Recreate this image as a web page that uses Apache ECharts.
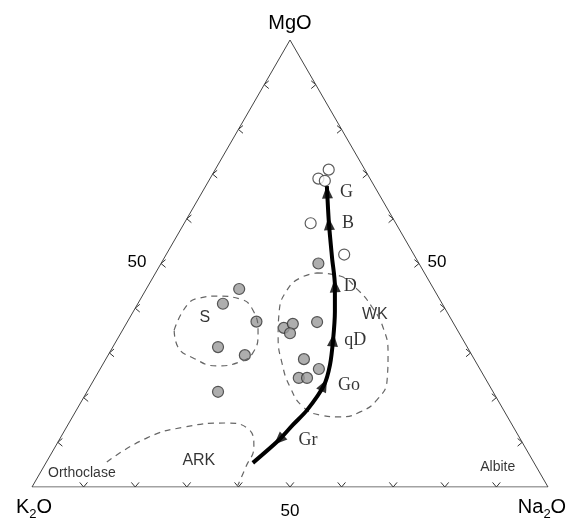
<!DOCTYPE html>
<html>
<head>
<meta charset="utf-8">
<script src="https://cdn.jsdelivr.net/npm/echarts@6/dist/echarts.min.js"></script>
<style>
  html, body { margin: 0; padding: 0; background: #fff; }
  #main { width: 573px; height: 519px; }
</style>
</head>
<body>
<div id="main"></div>
<script>
// compositions, every one as [K2O, Na2O, MgO]
const openPoints = [
  [10, 21, 69], [7, 22, 71], [9, 22.5, 68.5], [16.5, 24.5, 59], [13.5, 34.5, 52]
];
const grayPoints = [
  [19.5, 30.5, 50], [37.7, 18, 44.3], [42.5, 16.5, 41], [38, 25, 37],
  [48.3, 20.4, 31.3], [44, 26.5, 29.5], [53.3, 25.4, 21.3],
  [33.4, 31, 35.6], [31.2, 32.3, 36.5], [32.8, 32.8, 34.4], [26.3, 36.8, 36.9],
  [33, 38.4, 28.6], [31.2, 42.4, 26.4], [36.1, 39.5, 24.4], [34.5, 41.1, 24.4]
];
// weathering trend, from top (G) down to the end near ARK
const trendCurve = [
  [9.2, 23.5, 67.3], [9.8, 24.2, 66.0], [13.0, 28.1, 58.9], [16.2, 32.5, 51.3],
  [18.8, 36.2, 45.0], [21.7, 39.1, 39.2], [25.2, 41.9, 32.9], [28.6, 44.1, 27.3],
  [32.0, 45.2, 22.8], [38.1, 44.7, 17.2], [42.5, 43.6, 13.9], [46.9, 42.6, 10.5],
  [54.5, 40.1, 5.4]
];
const arrowIndex = [1, 2, 4, 6, 8, 11];
const arrowNames = ['G', 'B', 'D', 'qD', 'Go', 'Gr'];
const arrowDir = [1, 1, 1, 1, 1, -1];   // 1 = pointing up the curve, -1 = down
const arrowGap = [7, 7, 3, 5, 6, 11];

// dashed fields
const fieldS = [
  [54.9, 10, 35.1], [49.6, 9.7, 40.7], [46.3, 11.4, 42.3], [42.8, 14.5, 42.7],
  [38.7, 19.3, 42.1], [37.4, 23, 39.6], [39, 26.6, 34.5], [42.2, 27.8, 30],
  [45.7, 26.3, 28], [50.6, 22.3, 27.1], [54.4, 16.8, 28.9], [56, 12.6, 31.3],
  [54.9, 10, 35.1]
];
const fieldWK = [
  [20.8, 31.3, 47.9], [16.7, 36.1, 47.2], [14.8, 41.1, 44.1], [14, 45.8, 40.3],
  [14.1, 50.1, 35.8], [16, 54, 30], [19.2, 56.8, 23.9], [23.4, 57.1, 19.5],
  [28, 55.2, 16.8], [32.5, 51.9, 15.7], [36.1, 47.8, 16.1], [38.5, 43.6, 17.9],
  [38.8, 38.8, 22.4], [37.7, 34.6, 27.7], [35.5, 30.9, 33.6], [32.5, 28.3, 39.2],
  [28.5, 27.4, 44.1], [24.7, 28.6, 46.8], [20.8, 31.3, 47.9]
];
const fieldARK = [
  [82.7, 11.7, 5.6], [72.2, 16.8, 11], [63.8, 22.8, 13.4], [55.4, 30.2, 14.3],
  [51.6, 35.4, 13], [52.5, 38.5, 9], [56.3, 39.2, 4.5], [59.9, 39.7, 0.4]
];
const fieldNames = ['S', 'WK', 'ARK'];
const fieldLabelAt = [[47.6, 14.6, 37.8], [14.3, 47.2, 38.5], [64.6, 29.3, 6]];
const mineralNames = ['Orthoclase', 'Albite'];
const mineralLabelAt = [[88.7, 8.1, 3.1], [7.5, 88.1, 4.5]];
const tickValues = [10, 20, 30, 40, 50, 60, 70, 80, 90];

const R3 = Math.sqrt(3) / 2;
function toXY(c) {
  const s = c[0] + c[1] + c[2];
  const mg = c[2] / s * 100, na = c[1] / s * 100;
  return [na + mg / 2, mg * R3];
}

// tick chevrons: [x, y, pointing angle]
const ticks = [];
tickValues.forEach(function (v) {
  ticks.push(toXY([100 - v, v, 0]).concat(-90));   // bottom
  ticks.push(toXY([100 - v, 0, v]).concat(180));   // left
  ticks.push(toXY([0, 100 - v, v]).concat(0));     // right
});

const curveXY = trendCurve.map(toXY);
const arrowData = arrowIndex.map(function (i, k) {
  const a = curveXY[i - 1], b = curveXY[i + 1];
  const dx = (a[0] - b[0]) * arrowDir[k], dy = (a[1] - b[1]) * arrowDir[k];
  const rot = Math.atan2(dy, dx) * 180 / Math.PI - 90;
  return {
    value: curveXY[i],
    name: arrowNames[k],
    symbolRotate: rot,
    label: { distance: arrowGap[k] }
  };
});

const labelData = fieldNames.map(function (n, k) {
  return { value: toXY(fieldLabelAt[k]), name: n };
}).concat(mineralNames.map(function (n, k) {
  return { value: toXY(mineralLabelAt[k]), name: n, label: { fontSize: 14 } };
}));

const sans = '"Liberation Sans", Arial, sans-serif';
const serif = '"Liberation Serif", "Times New Roman", serif';
const dashStyle = { color: '#666', width: 1.2, type: [6, 5] };
const subRich = {
  a: { fontSize: 20, fontFamily: sans, lineHeight: 28, color: '#000' },
  b: { fontSize: 13, fontFamily: sans, lineHeight: 13, verticalAlign: 'bottom', color: '#000' }
};

const chart = echarts.init(document.getElementById('main'));
chart.setOption({
  animation: false,
  grid: { left: 32, top: 40, width: 516, height: 447, containLabel: false },
  xAxis: { type: 'value', min: 0, max: 100, show: false },
  yAxis: { type: 'value', min: 0, max: 100 * R3, show: false },
  graphic: [
    { type: 'text', x: 290, y: 23, style: { text: 'MgO', font: '20px ' + sans, fill: '#000', align: 'center', verticalAlign: 'middle' } },
    { type: 'text', x: 34, y: 507, style: { text: '{a|K}{b|2}{a|O}', align: 'center', verticalAlign: 'middle', rich: subRich } },
    { type: 'text', x: 542, y: 507, style: { text: '{a|Na}{b|2}{a|O}', align: 'center', verticalAlign: 'middle', rich: subRich } },
    { type: 'text', x: 290, y: 511, style: { text: '50', font: '17px ' + sans, fill: '#000', align: 'center', verticalAlign: 'middle' } },
    { type: 'text', x: 137, y: 262, style: { text: '50', font: '17px ' + sans, fill: '#000', align: 'center', verticalAlign: 'middle' } },
    { type: 'text', x: 437, y: 262, style: { text: '50', font: '17px ' + sans, fill: '#000', align: 'center', verticalAlign: 'middle' } }
  ],
  series: [
    {
      type: 'line',
      data: [toXY([100, 0, 0]), toXY([0, 100, 0]), toXY([0, 0, 100]), toXY([100, 0, 0])],
      symbol: 'none',
      lineStyle: { color: '#444', width: 1 },
      silent: true
    },
    {
      type: 'custom',
      data: ticks,
      silent: true,
      renderItem: function (params, api) {
        const p = api.coord([api.value(0), api.value(1)]);
        const a = api.value(2) * Math.PI / 180, h = 40 * Math.PI / 180, L = 6;
        const b1 = [p[0] - L * Math.cos(a + h), p[1] + L * Math.sin(a + h)];
        const b2 = [p[0] - L * Math.cos(a - h), p[1] + L * Math.sin(a - h)];
        return {
          type: 'polyline',
          shape: { points: [b1, p, b2] },
          style: { stroke: '#333', lineWidth: 1, fill: 'none' }
        };
      }
    },
    { type: 'line', data: fieldS.map(toXY), smooth: 0.5, symbol: 'none', lineStyle: dashStyle, silent: true },
    { type: 'line', data: fieldWK.map(toXY), smooth: 0.5, symbol: 'none', lineStyle: dashStyle, silent: true },
    { type: 'line', data: fieldARK.map(toXY), smooth: 0.5, symbol: 'none', lineStyle: dashStyle, silent: true },
    {
      type: 'line',
      data: curveXY,
      smooth: 0.3,
      symbol: 'none',
      lineStyle: { color: '#000', width: 4 },
      silent: true
    },
    {
      type: 'scatter',
      data: grayPoints.map(toXY),
      symbolSize: 11,
      itemStyle: { color: '#9a9a9a', borderColor: '#333', borderWidth: 1.2 },
      silent: true
    },
    {
      type: 'scatter',
      data: openPoints.map(toXY),
      symbolSize: 11,
      itemStyle: { color: '#fff', borderColor: '#333', borderWidth: 1.2 },
      silent: true
    },
    {
      type: 'scatter',
      data: arrowData,
      symbol: 'triangle',
      symbolSize: [11, 13],
      itemStyle: { color: '#000' },
      label: {
        show: true, position: 'right', formatter: '{b}',
        fontFamily: serif, fontSize: 18, color: '#000'
      },
      silent: true
    },
    {
      type: 'scatter',
      data: labelData,
      symbolSize: 0,
      label: {
        show: true, position: 'inside', formatter: '{b}',
        fontFamily: sans, fontSize: 16, color: '#000'
      },
      silent: true
    }
  ]
});
</script>
</body>
</html>
